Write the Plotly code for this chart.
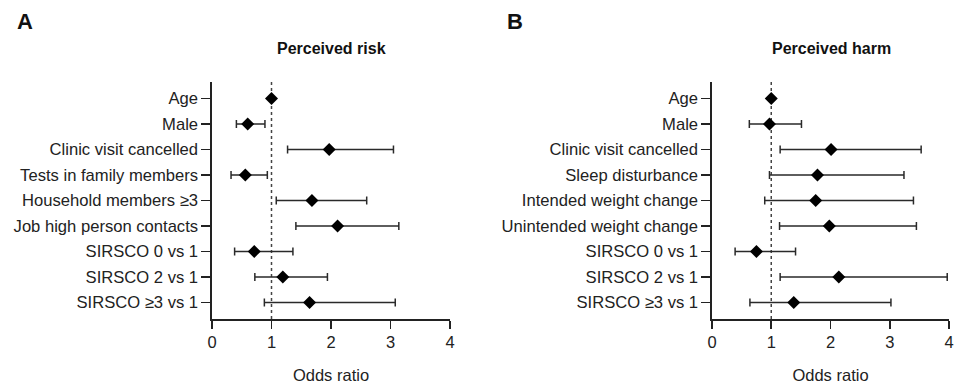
import plotly.graph_objects as go

# Panel A: Perceived risk
risk_labels = ["Age", "Male", "Clinic visit cancelled", "Tests in family members",
               "Household members ≥3", "Job high person contacts",
               "SIRSCO 0 vs 1", "SIRSCO 2 vs 1", "SIRSCO ≥3 vs 1"]
risk_or = [1.00, 0.60, 1.97, 0.56, 1.68, 2.11, 0.71, 1.19, 1.64]
risk_lo = [0.99, 0.41, 1.27, 0.32, 1.08, 1.41, 0.38, 0.72, 0.88]
risk_hi = [1.01, 0.89, 3.05, 0.93, 2.60, 3.14, 1.36, 1.94, 3.08]

# Panel B: Perceived harm
harm_labels = ["Age", "Male", "Clinic visit cancelled", "Sleep disturbance",
               "Intended weight change", "Unintended weight change",
               "SIRSCO 0 vs 1", "SIRSCO 2 vs 1", "SIRSCO ≥3 vs 1"]
harm_or = [1.00, 0.97, 2.01, 1.78, 1.75, 1.98, 0.75, 2.14, 1.38]
harm_lo = [0.99, 0.63, 1.15, 0.97, 0.89, 1.14, 0.39, 1.15, 0.64]
harm_hi = [1.01, 1.51, 3.53, 3.24, 3.40, 3.45, 1.41, 3.97, 3.02]

x_ticks = [0, 1, 2, 3, 4]

FONT = "Liberation Sans, Arial, sans-serif"
W, H = 956, 385

fig = go.Figure()

panels = [
    (risk_labels, risk_or, risk_lo, risk_hi, "x", "y"),
    (harm_labels, harm_or, harm_lo, harm_hi, "x2", "y2"),
]
for labels, orv, lo, hi, xa, ya in panels:
    pos = list(range(len(labels)))
    fig.add_trace(go.Scatter(
        x=orv, y=pos, mode="markers", xaxis=xa, yaxis=ya,
        marker=dict(symbol="diamond", size=10, color="black"),
        error_x=dict(type="data", symmetric=False,
                     array=[h - o for h, o in zip(hi, orv)],
                     arrayminus=[o - l for o, l in zip(orv, lo)],
                     color="#2a2a2a", thickness=1.5, width=4),
        showlegend=False, hoverinfo="skip", cliponaxis=False,
    ))

ytop = 1 - 82 / H
ybot = 1 - 319 / H

def xaxis_cfg(dom, anchor):
    return dict(domain=dom, range=[0, 4], tickvals=x_ticks, ticktext=[str(t) for t in x_ticks],
                showgrid=False, zeroline=False, showline=True, linecolor="#222", linewidth=1.6,
                ticks="outside", ticklen=8, tickwidth=1.6, tickcolor="#222",
                tickfont=dict(size=16.5, family=FONT, color="#222"),
                title=dict(text="Odds ratio", font=dict(size=16.5, family=FONT, color="#222"), standoff=19),
                anchor=anchor, automargin=False)

def yaxis_cfg(labels, anchor):
    return dict(domain=[ybot, ytop], range=[len(labels) - 0.35, -0.65],
                tickvals=list(range(len(labels))), ticktext=labels,
                showgrid=False, zeroline=False, showline=True, linecolor="#222", linewidth=1.6,
                ticks="outside", ticklen=9, tickwidth=1.6, tickcolor="#222",
                tickfont=dict(size=16.6, family=FONT, color="#222"), anchor=anchor, automargin=False)

fig.update_layout(
    width=W, height=H, margin=dict(l=0, r=0, t=0, b=0, autoexpand=False),
    paper_bgcolor="white", plot_bgcolor="white",
    xaxis=xaxis_cfg([212 / W, 450 / W], "y"), yaxis=yaxis_cfg(risk_labels, "x"),
    xaxis2=xaxis_cfg([712 / W, 949 / W], "y2"), yaxis2=yaxis_cfg(harm_labels, "x2"),
    font=dict(family=FONT, color="#222"),
)

# dotted reference lines at OR = 1
for xr, yr in [("x", "y domain"), ("x2", "y2 domain")]:
    fig.add_shape(type="line", xref=xr, yref=yr, x0=1, x1=1, y0=0, y1=1,
                  line=dict(color="#444", width=1.5, dash="dot"), layer="below")

# panel titles and letters
ann = dict(xref="paper", yref="paper", showarrow=False, xanchor="center", yanchor="middle")
fig.add_annotation(x=331 / W, y=1 - 49 / H, text="<b>Perceived risk</b>",
                   font=dict(size=16, family=FONT, color="#111"), **ann)
fig.add_annotation(x=831 / W, y=1 - 49 / H, text="<b>Perceived harm</b>",
                   font=dict(size=16, family=FONT, color="#111"), **ann)
fig.add_annotation(x=25 / W, y=1 - 21 / H, text="<b>A</b>",
                   font=dict(size=22, family=FONT, color="#111"), **ann)
fig.add_annotation(x=515 / W, y=1 - 21 / H, text="<b>B</b>",
                   font=dict(size=22, family=FONT, color="#111"), **ann)

fig.write_html("out.html", config={"displayModeBar": False, "staticPlot": True},
               post_script="document.body.style.margin='0';document.body.style.overflow='hidden';")
